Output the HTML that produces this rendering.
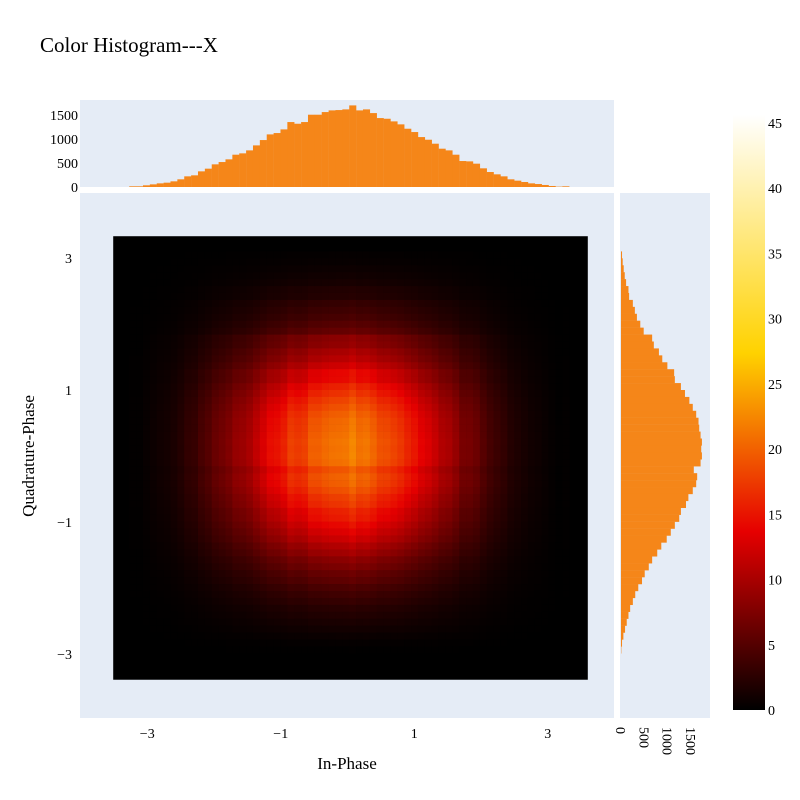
<!DOCTYPE html>
<html><head><meta charset="utf-8"><style>
body{margin:0;background:#fff;}
svg{display:block;font-family:"Liberation Serif",serif;}
</style></head><body>
<svg id="chart" width="800" height="800" viewBox="0 0 800 800">
<defs>
<linearGradient id="hot" x1="0" y1="1" x2="0" y2="0">
<stop offset="0" stop-color="rgb(0,0,0)"/><stop offset="0.3" stop-color="rgb(230,0,0)"/>
<stop offset="0.6" stop-color="rgb(255,210,0)"/><stop offset="1" stop-color="rgb(255,255,255)"/>
</linearGradient>
</defs>
<text x="40" y="52" font-size="21" fill="#000">Color Histogram---X</text>
<rect x="80" y="193" width="534" height="525" fill="#e5ecf6"/>
<rect x="80" y="100" width="534" height="87" fill="#e5ecf6"/>
<rect x="620" y="193" width="90" height="525" fill="#e5ecf6"/>
<g id="heat"></g>
<g id="topHist"></g>
<g id="rightHist"></g>
<g id="axes"></g>
<rect x="733" y="115" width="32" height="595" fill="url(#hot)"/>
<g id="cbTicks"></g>
<text x="347" y="769" font-size="17" text-anchor="middle">In-Phase</text>
<text x="0" y="0" font-size="17" text-anchor="middle" transform="translate(34,456) rotate(-90)">Quadrature-Phase</text>
</svg>
<script>
// ---- data ----
const xBinStart = -3.27;
const xBinWidth = 0.103;
const xCounts = [14,14,35,55,76,90,118,160,222,243,326,382,472,520,576,673,701,763,867,978,1096,1124,1200,1353,1318,1353,1506,1506,1561,1596,1603,1617,1700,1596,1617,1540,1436,1422,1367,1305,1214,1145,1040,985,902,798,763,673,541,534,486,389,312,264,222,160,132,104,76,62,42,21,7,14];
const yBinTop = 3.1;      // bins listed from top downward
const yBinWidth = 0.105;
const yCounts = [22,36,58,80,109,160,174,254,297,341,413,486,667,703,812,884,993,1138,1153,1283,1370,1464,1537,1610,1660,1675,1704,1733,1718,1733,1704,1559,1631,1610,1537,1443,1392,1283,1247,1153,1066,979,863,776,667,595,508,450,370,305,254,196,160,123,87,51,22,7];
const heatXRange = [-3.51, 3.6];
const heatYRange = [-3.39, 3.33];
const cellDensity = 0.36;
const zMax = 45.6;
const xTicks = [-3, -1, 1, 3];
const xTickLabels = ["\u22123", "\u22121", "1", "3"];
const yTicks = [3, 1, -1, -3];
const yTickLabels = ["3", "1", "\u22121", "\u22123"];
const countTicks = [0, 500, 1000, 1500];
const cbTicks = [0, 5, 10, 15, 20, 25, 30, 35, 40, 45];

// ---- axis functions ----
const X = v => 347.5 + 66.75 * v;
const Y = v => 456 - 66 * v;
const topC = c => 187 - c * 0.048;
const rightC = c => 621 + c * 0.0467;
const cbY = z => 710 - z * (595 / zMax);
const NS = "http://www.w3.org/2000/svg";
function mk(tag, attrs, parent) {
  const e = document.createElementNS(NS, tag);
  for (const k in attrs) e.setAttribute(k, attrs[k]);
  parent.appendChild(e);
  return e;
}
function hot(t) {
  t = Math.max(0, Math.min(1, t));
  const s = [[0, 0, 0, 0], [0.3, 230, 0, 0], [0.6, 255, 210, 0], [1, 255, 255, 255]];
  for (let i = 1; i < s.length; i++) {
    if (t <= s[i][0]) {
      const a = s[i - 1], b = s[i], f = (t - a[0]) / (b[0] - a[0]);
      return `rgb(${Math.round(a[1] + f * (b[1] - a[1]))},${Math.round(a[2] + f * (b[2] - a[2]))},${Math.round(a[3] + f * (b[3] - a[3]))})`;
    }
  }
  return "rgb(255,255,255)";
}

// ---- heatmap ----
const heat = document.getElementById("heat");
const bg = mk("rect", {x: X(heatXRange[0]), y: Y(heatYRange[1]), width: X(heatXRange[1]) - X(heatXRange[0]), height: Y(heatYRange[0]) - Y(heatYRange[1]), fill: "#000"}, heat);


const sumX = xCounts.reduce((a, b) => a + b, 0);
xCounts.forEach((cx, i) => {
  const x0 = xBinStart + i * xBinWidth;
  yCounts.forEach((cy, j) => {
    const yT = yBinTop - j * yBinWidth;
    const z = cx * cy / sumX * cellDensity;
    const r = mk("rect", {x: X(x0), y: Y(yT), width: X(x0 + xBinWidth) - X(x0) + 0.3, height: Y(yT - yBinWidth) - Y(yT) + 0.3, fill: hot(z / zMax)}, heat);
    
    
  });
});

// ---- marginal histograms ----
const th = document.getElementById("topHist");
xCounts.forEach((c, i) => {
  const x0 = xBinStart + i * xBinWidth;
  const r = mk("rect", {x: X(x0), y: topC(c), width: X(x0 + xBinWidth) - X(x0) + 0.2, height: topC(0) - topC(c), fill: "rgb(245,134,25)"}, th);
  
  
});
const rh = document.getElementById("rightHist");
yCounts.forEach((c, j) => {
  const yT = yBinTop - j * yBinWidth;
  const r = mk("rect", {x: rightC(0), y: Y(yT), width: rightC(c) - rightC(0), height: Y(yT - yBinWidth) - Y(yT) + 0.2, fill: "rgb(245,134,25)"}, rh);
  
  
});

// ---- ticks ----
const ax = document.getElementById("axes");
xTicks.forEach((v, i) => {
  const t = mk("text", {x: X(v), y: 738, "font-size": 14, "text-anchor": "middle"}, ax);
  t.textContent = xTickLabels[i];
  
  
});
yTicks.forEach((v, i) => {
  const t = mk("text", {x: 72, y: Y(v) + 5, "font-size": 14, "text-anchor": "end"}, ax);
  t.textContent = yTickLabels[i];
  
  
});
countTicks.forEach(c => {
  const t = mk("text", {x: 78, y: topC(c) + 5, "font-size": 14, "text-anchor": "end"}, ax);
  t.textContent = String(c);
  
  
  const u = mk("text", {x: 0, y: 0, "font-size": 14, "text-anchor": "start", transform: `translate(${rightC(c) - 5},727) rotate(90)`}, ax);
  u.textContent = String(c);
  
  
});
const cb = document.getElementById("cbTicks");
cbTicks.forEach(z => {
  const t = mk("text", {x: 768, y: cbY(z) + 5, "font-size": 14, "text-anchor": "start"}, cb);
  t.textContent = String(z);
  
  
});
</script>
</body></html>
